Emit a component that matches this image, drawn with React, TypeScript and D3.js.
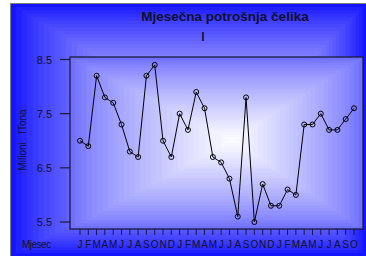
import React from "react";
import * as d3 from "d3";

const monthLabels = [
  "J","F","M","A","M","J","J","A","S","O","N","D",
  "J","F","M","A","M","J","J","A","S","O","N","D",
  "J","F","M","A","M","J","J","A","S","O",
];
const values = [
  7.0, 6.9, 8.2, 7.8, 7.7, 7.3, 6.8, 6.7, 8.2, 8.4, 7.0, 6.7,
  7.5, 7.2, 7.9, 7.6, 6.7, 6.6, 6.3, 5.6, 7.8, 5.5, 6.2, 5.8,
  5.8, 6.1, 6.0, 7.3, 7.3, 7.5, 7.2, 7.2, 7.4, 7.6,
];
const yTicks = [5.5, 6.5, 7.5, 8.5];

const W = 366, H = 256;
const plot = { l: 70, t: 57, r: 363, b: 229 };

function gradientRects(L: number, T: number, R: number, B: number, cx: number, cy: number, edge: string, n: number, key: string) {
  const interp = d3.interpolateRgb(edge, "#ffffff");
  const rects = [];
  for (let i = 0; i < n; i++) {
    const t = i / n;
    const x0 = L + t * (cx - L), x1 = R - t * (R - cx);
    const y0 = T + t * (cy - T), y1 = B - t * (B - cy);
    rects.push(
      <rect key={key + i} x={x0} y={y0} width={Math.max(0, x1 - x0)} height={Math.max(0, y1 - y0)}
        fill={interp(Math.pow(t, 0.8))} />
    );
  }
  return rects;
}

export default function App() {
  const x = d3.scaleLinear().domain([0, monthLabels.length - 1]).range([80, 354]);
  const y = d3.scaleLinear().domain([5.5, 8.5]).range([222, 59.5]);
  const line = d3.line<number>().x((_, i) => x(i)).y((d) => y(d));
  const font = "Liberation Sans, Arial, sans-serif";
  const txt = "#10102a";
  return (
    <svg width={W} height={H} style={{ position: "absolute", left: 0, top: 0 }} fontFamily={font}>
      <rect x={0} y={0} width={W} height={H} fill="#ffffff" />
      <rect x={10} y={3} width={356} height={253} fill="#1414ff" />
      {gradientRects(10.5, 3.5, 366, 256, 232, 140, "#1414ff", 40, "o")}
      {gradientRects(plot.l, plot.t, plot.r, plot.b, 232, 140, "#7070ff", 30, "p")}
      <line x1={10} y1={3.5} x2={366} y2={3.5} stroke="#808080" strokeWidth={1} />
      <line x1={10.5} y1={3} x2={10.5} y2={256} stroke="#808080" strokeWidth={1} />
      <rect x={plot.l} y={plot.t} width={plot.r - plot.l} height={plot.b - plot.t} fill="none" stroke="#1a1a3a" strokeWidth={1.3} />
      <text x={225} y={21} textAnchor="middle" fontSize={13.5} fontWeight="bold" fill={txt}>Mjesečna potrošnja čelika</text>
      <text x={203} y={41} textAnchor="middle" fontSize={12} fontWeight="bold" fill={txt}>l</text>
      {yTicks.map((v) => (
        <g key={v}>
          <line x1={60} x2={plot.l} y1={y(v)} y2={y(v)} stroke="#1a1a3a" strokeWidth={1.2} />
          <text x={52} y={y(v) + 4} textAnchor="end" fontSize={11} fill={txt}>{v.toFixed(1)}</text>
        </g>
      ))}
      <text transform={`translate(26,140) rotate(-90)`} textAnchor="middle" fontSize={10} fill={txt} xmlSpace="preserve">Milioni   fTona</text>
      {monthLabels.map((m, i) => (
        <g key={i}>
          <line x1={x(i)} x2={x(i)} y1={plot.b} y2={plot.b + 6} stroke="#1a1a3a" strokeWidth={1} />
          <text x={x(i)} y={248} textAnchor="middle" fontSize={10} fill={txt}>{m}</text>
        </g>
      ))}
      <text x={22} y={248} fontSize={10} fill={txt} letterSpacing={-0.5}>Mjesec</text>
      <path d={line(values) || ""} fill="none" stroke="#000000" strokeWidth={1} />
      {values.map((v, i) => (
        <circle key={i} cx={x(i)} cy={y(v)} r={2.5} fill="none" stroke="#000000" strokeWidth={1} />
      ))}
    </svg>
  );
}
